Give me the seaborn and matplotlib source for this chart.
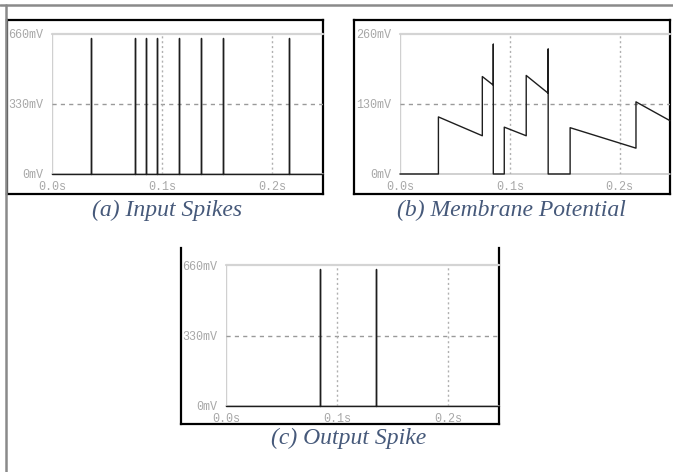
import numpy as np
import pandas as pd
import matplotlib
matplotlib.use("Agg")
import matplotlib.pyplot as plt
import seaborn as sns
from matplotlib.lines import Line2D

sns.set_style("white")
plt.rcParams["font.family"] = ["DejaVu Sans"]

# spike times in seconds, amplitude in mV
input_spike_times = [0.035, 0.075, 0.085, 0.095, 0.115, 0.135, 0.155, 0.215]
output_spike_times = [0.085, 0.135]
spike_amp = 640

# membrane potential (vertices of the trace)
mem_t = [0.0, 0.035, 0.035, 0.075, 0.075, 0.085, 0.085, 0.085, 0.095, 0.095,
         0.115, 0.115, 0.135, 0.135, 0.135, 0.155, 0.155, 0.215, 0.215, 0.246]
mem_v = [0, 0, 106, 71, 181, 165, 241, 0, 0, 87,
         71, 183, 150, 232, 0, 0, 86, 48, 134, 99]

t_end = 0.246
W, H = 673, 472
line_col = "#1e1e1e"
tick_col = "#a8a8a8"
cap_col = "#46597a"


def spike_frame(times, amp):
    t, v = [0.0], [0.0]
    for s in times:
        t += [s, s, s]
        v += [0, amp, 0]
    t.append(t_end)
    v.append(0)
    return pd.DataFrame({"t": t, "v": v})


def rect(x0, y0, x1, y1):
    return [x0 / W, 1 - y1 / H, (x1 - x0) / W, (y1 - y0) / H]


def frame(fig, box, top=True):
    fa = fig.add_axes(rect(*box), zorder=0)
    fa.set_xticks([])
    fa.set_yticks([])
    for s in fa.spines.values():
        s.set_color("black")
        s.set_linewidth(1.6)
    fa.spines["top"].set_visible(top)
    return fa


def style(ax, ymax, labels):
    ax.set_facecolor("none")
    for s in ax.spines.values():
        s.set_visible(False)
    ax.set_xlim(0, t_end)
    ax.set_ylim(0, ymax)
    ax.set_xticks([0, 0.1, 0.2])
    ax.set_xticklabels(["0.0s", "0.1s", "0.2s"])
    ax.set_yticks([0, ymax / 2, ymax])
    ax.set_yticklabels(labels)
    ax.set_xlabel("")
    ax.set_ylabel("")
    ax.tick_params(axis="y", length=6, width=1, color="#c4c4c4", pad=0.5,
                   labelcolor=tick_col, labelsize=8.5)
    ax.tick_params(axis="x", length=0, pad=5, labelcolor=tick_col, labelsize=8.5)
    for lab in ax.get_xticklabels() + ax.get_yticklabels():
        lab.set_family("Liberation Mono")
    ax.axhline(ymax, color="#d4d4d4", lw=1.6, zorder=1, clip_on=False)
    ax.axhline(0, color="#c8c8c8", lw=1.2, zorder=1, clip_on=False)
    ax.axvline(0, color="#d0d0d0", lw=1.0, zorder=1)
    ax.axhline(ymax / 2, color="#9a9a9a", lw=1.0, ls=(0, (3, 3)), zorder=1)
    for x in (0.1, 0.2):
        ax.axvline(x, color="#b0b0b0", lw=1.0, ls=(0, (1.5, 2)), zorder=1)


fig = plt.figure(figsize=(6.73, 4.72), dpi=100)

# outer border (top and left)
fig.add_artist(Line2D([0, 1], [1 - 4.5 / H] * 2, color="#8a8a8a", lw=1.8, zorder=5))
fig.add_artist(Line2D([6 / W] * 2, [0, 1 - 4.5 / H], color="#8a8a8a", lw=1.8, zorder=5))

# (a) input spikes
frame(fig, (7, 20, 323, 194))
ax_a = fig.add_axes(rect(52, 34, 323, 174), zorder=2)
sns.lineplot(data=spike_frame(input_spike_times, spike_amp), x="t", y="v",
             sort=False, estimator=None, color=line_col, lw=1.0, ax=ax_a,
             clip_on=False, zorder=3)
style(ax_a, 660, ["0mV", "330mV", "660mV"])

# (b) membrane potential
frame(fig, (354, 20, 670, 194))
ax_b = fig.add_axes(rect(400, 34, 670, 174), zorder=2)
sns.lineplot(data=pd.DataFrame({"t": mem_t, "v": mem_v}), x="t", y="v",
             sort=False, estimator=None, color=line_col, lw=1.0, ax=ax_b,
             clip_on=False, zorder=3)
style(ax_b, 260, ["0mV", "130mV", "260mV"])

# (c) output spike
frame(fig, (181, 248, 499, 424), top=False)
ax_c = fig.add_axes(rect(226, 265, 499, 406), zorder=2)
sns.lineplot(data=spike_frame(output_spike_times, spike_amp), x="t", y="v",
             sort=False, estimator=None, color=line_col, lw=1.0, ax=ax_c,
             clip_on=False, zorder=3)
style(ax_c, 660, ["0mV", "330mV", "660mV"])

cap_kw = dict(ha="center", va="center", family="Liberation Serif",
              style="italic", size=17, color=cap_col)
fig.text(167 / W, 1 - 210 / H, "(a) Input Spikes", **cap_kw)
fig.text(511 / W, 1 - 210 / H, "(b) Membrane Potential", **cap_kw)
fig.text(349 / W, 1 - 438 / H, "(c) Output Spike", **cap_kw)

fig.savefig("out.png", dpi=100)
